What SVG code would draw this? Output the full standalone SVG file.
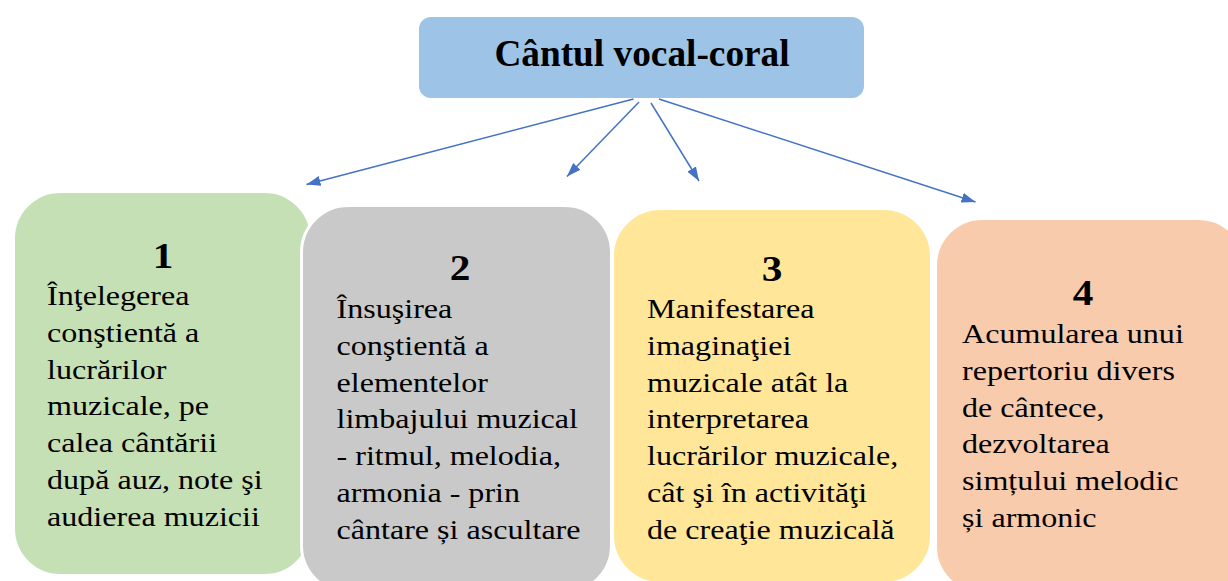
<svg xmlns="http://www.w3.org/2000/svg" width="1228" height="581" viewBox="0 0 1228 581">
  <style>
    .box { stroke: #FFFFFF; stroke-width: 3; }
    .conn { stroke: #4472C4; stroke-width: 1.5; fill: none; marker-end: url(#arrow); }
  </style>
  <defs>
    <marker id="arrow" viewBox="0 0 14 10" refX="14" refY="5" markerWidth="14" markerHeight="10" markerUnits="userSpaceOnUse" orient="auto">
      <path d="M0,0 L14,5 L0,10 z" fill="#4472C4"/>
    </marker>
  </defs>
  <rect width="1228" height="581" fill="#FFFFFF"/>

  <g id="node-title">
    <rect x="419" y="17" width="445" height="81" rx="12" fill="#9DC3E6"/>
    <text x="642" y="66" text-anchor="middle" font-family="Liberation Serif, serif" font-weight="bold" font-size="37.3">Cântul vocal-coral</text>
  </g>

  <g id="connectors">
    <line class="conn" x1="633.5" y1="99" x2="306.5" y2="184.5"/>
    <line class="conn" x1="639" y1="102" x2="567" y2="176.5"/>
    <line class="conn" x1="651" y1="103" x2="699" y2="181"/>
    <line class="conn" x1="659" y1="99" x2="975.5" y2="202"/>
  </g>

  <g id="node-1">
    <rect class="box" x="13.5" y="191.5" width="298" height="384" rx="47" fill="#C5E0B4"/>
    <g font-family="Liberation Serif, serif" font-weight="bold" font-size="36" text-anchor="middle">
      <text transform="translate(163,268) scale(1.146,1)">1</text>
    </g>
    <g font-family="Liberation Serif, serif" font-size="28">
      <text transform="translate(47,305) scale(1.146,1)">Înţelegerea</text>
      <text transform="translate(47,341.8) scale(1.146,1)">conştientă a</text>
      <text transform="translate(47,378.6) scale(1.146,1)">lucrărilor</text>
      <text transform="translate(47,415.4) scale(1.146,1)">muzicale, pe</text>
      <text transform="translate(47,452.2) scale(1.146,1)">calea cântării</text>
      <text transform="translate(47,489) scale(1.146,1)">după auz, note şi</text>
      <text transform="translate(47,525.8) scale(1.146,1)">audierea muzicii</text>
    </g>
  </g>

  <g id="node-2">
    <rect class="box" x="301.5" y="205.5" width="310" height="387" rx="47" fill="#C9C9C9"/>
    <g font-family="Liberation Serif, serif" font-weight="bold" font-size="36" text-anchor="middle">
      <text transform="translate(460,280) scale(1.146,1)">2</text>
    </g>
    <g font-family="Liberation Serif, serif" font-size="28">
      <text transform="translate(336.5,318) scale(1.146,1)">Însuşirea</text>
      <text transform="translate(336.5,354.8) scale(1.146,1)">conştientă a</text>
      <text transform="translate(336.5,391.6) scale(1.146,1)">elementelor</text>
      <text transform="translate(336.5,428.4) scale(1.146,1)">limbajului muzical</text>
      <text transform="translate(336.5,465.2) scale(1.146,1)">- ritmul, melodia,</text>
      <text transform="translate(336.5,502) scale(1.146,1)">armonia - prin</text>
      <text transform="translate(336.5,538.8) scale(1.146,1)">cântare și ascultare</text>
    </g>
  </g>

  <g id="node-4">
    <rect class="box" x="935.5" y="218.5" width="310" height="375" rx="47" fill="#F8CBAD"/>
    <g font-family="Liberation Serif, serif" font-weight="bold" font-size="36" text-anchor="middle">
      <text transform="translate(1083,305) scale(1.146,1)">4</text>
    </g>
    <g font-family="Liberation Serif, serif" font-size="28">
      <text transform="translate(962,343) scale(1.146,1)">Acumularea unui</text>
      <text transform="translate(962,379.8) scale(1.146,1)">repertoriu divers</text>
      <text transform="translate(962,416.6) scale(1.146,1)">de cântece,</text>
      <text transform="translate(962,453.4) scale(1.146,1)">dezvoltarea</text>
      <text transform="translate(962,490.2) scale(1.146,1)">simțului melodic</text>
      <text transform="translate(962,527) scale(1.146,1)">și armonic</text>
    </g>
  </g>

  <g id="node-3">
    <rect class="box" x="612.5" y="208.5" width="319" height="375" rx="48" fill="#FFE699"/>
    <g font-family="Liberation Serif, serif" font-weight="bold" font-size="36" text-anchor="middle">
      <text transform="translate(772,281) scale(1.146,1)">3</text>
    </g>
    <g font-family="Liberation Serif, serif" font-size="28">
      <text transform="translate(647,318) scale(1.146,1)">Manifestarea</text>
      <text transform="translate(647,354.8) scale(1.146,1)">imaginaţiei</text>
      <text transform="translate(647,391.6) scale(1.146,1)">muzicale atât la</text>
      <text transform="translate(647,428.4) scale(1.146,1)">interpretarea</text>
      <text transform="translate(647,465.2) scale(1.146,1)">lucrărilor muzicale,</text>
      <text transform="translate(647,502) scale(1.146,1)">cât şi în activităţi</text>
      <text transform="translate(647,538.8) scale(1.146,1)">de creaţie muzicală</text>
    </g>
  </g>
</svg>
